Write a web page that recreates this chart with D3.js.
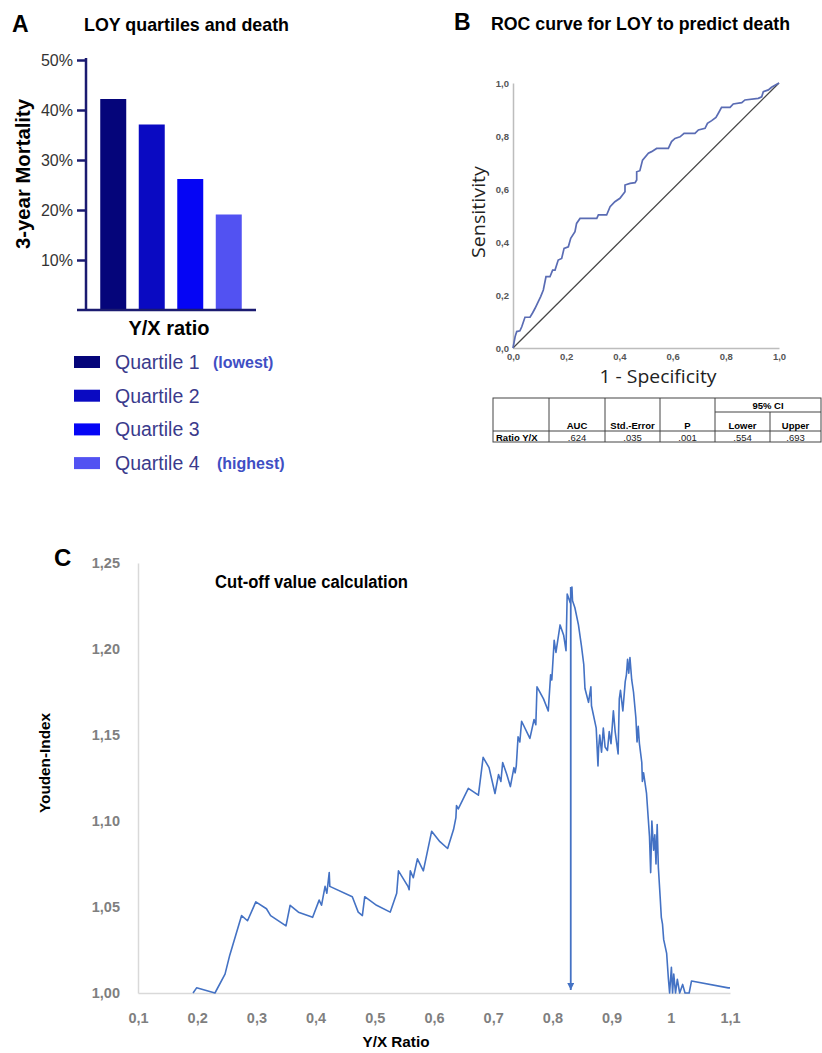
<!DOCTYPE html>
<html>
<head>
<meta charset="utf-8">
<script src="https://cdn.jsdelivr.net/npm/d3@7"></script>
<style>
  body { margin: 0; background: #fff; }
  svg { display: block; font-family: "Liberation Sans", Arial, sans-serif; }
</style>
</head>
<body>
<svg id="chart" width="822" height="1053"></svg>
<script>
// Panel A - 3-year mortality by LOY quartile
const quartiles = ['Quartile 1', 'Quartile 2', 'Quartile 3', 'Quartile 4'];
const quartileNotes = ['(lowest)', '', '', '(highest)'];
const mortality = [42.2, 37.1, 26.2, 19.1];
const mortalityTicks = [10, 20, 30, 40, 50];
const quartileColors = ['#05057a', '#0a0ac2', '#0505f5', '#5252f2'];

// Panel B - ROC curve (1 - specificity, sensitivity)
const rocFpr = [0, .008, .014, .026, .033, .045, .064, .074, .083, .095, .104, .114, .124, .139, .149, .158,
  .170, .183, .192, .208, .217, .233, .239, .252, .315, .321, .352, .365, .383, .402, .421, .421, .440, .459,
  .465, .465, .477, .487, .509, .521, .540, .584, .596, .609, .628, .643, .684, .697, .722, .731, .747, .763,
  .772, .784, .816, .828, .860, .872, .922, .935, .941, .960, .972, 1.0];
const rocTpr = [0, .043, .062, .065, .080, .116, .116, .133, .150, .175, .194, .219, .269, .269, .294, .294,
  .332, .338, .376, .382, .414, .439, .470, .489, .489, .502, .502, .533, .552, .565, .590, .615, .621, .624,
  .634, .665, .669, .709, .735, .741, .753, .753, .779, .791, .797, .810, .810, .823, .829, .848, .858, .870,
  .886, .908, .908, .921, .926, .936, .942, .948, .967, .974, .984, 1.0];
const rocTicks = [0, 0.2, 0.4, 0.6, 0.8, 1.0];
const tableHeader = ['AUC', 'Std.-Error', 'P', 'Lower', 'Upper'];
const tableRow = ['Ratio Y/X', '.624', '.035', '.001', '.554', '.693'];

// Panel C - Youden index vs Y/X ratio
const ratio = [0.193, 0.199, 0.230, 0.247, 0.255, 0.275, 0.285, 0.299, 0.317, 0.324, 0.350, 0.357, 0.371,
  0.395, 0.406, 0.410, 0.416, 0.419, 0.423, 0.424, 0.462, 0.472, 0.479, 0.483, 0.503, 0.526, 0.537, 0.540,
  0.556, 0.558, 0.560, 0.565, 0.572, 0.582, 0.596, 0.610, 0.623, 0.633, 0.637, 0.638, 0.641, 0.658, 0.675,
  0.683, 0.693, 0.703, 0.709, 0.713, 0.716, 0.723, 0.729, 0.735, 0.737, 0.739, 0.742, 0.745, 0.748, 0.762,
  0.769, 0.772, 0.774, 0.785, 0.793, 0.797, 0.799, 0.803, 0.806, 0.813, 0.819, 0.823, 0.825, 0.830, 0.833,
  0.834, 0.838, 0.844, 0.849, 0.853, 0.855, 0.861, 0.865, 0.866, 0.874, 0.877, 0.878, 0.880, 0.883, 0.886,
  0.889, 0.893, 0.896, 0.899, 0.903, 0.906, 0.911, 0.913, 0.915, 0.919, 0.923, 0.925, 0.927, 0.929, 0.931,
  0.934, 0.937, 0.941, 0.943, 0.945, 0.947, 0.951, 0.952, 0.954, 0.959, 0.962, 0.964, 0.966, 0.968, 0.971,
  0.973, 0.975, 0.977, 0.979, 0.982, 0.984, 0.986, 0.988, 0.993, 0.996, 0.998, 1.001, 1.003, 1.005, 1.008,
  1.011, 1.015, 1.020, 1.024, 1.031, 1.035, 1.097, 1.100];
const youden = [1.000, 1.003, 1.000, 1.011, 1.022, 1.045, 1.042, 1.053, 1.049, 1.045, 1.039, 1.051, 1.047,
  1.044, 1.054, 1.051, 1.062, 1.058, 1.070, 1.062, 1.056, 1.047, 1.045, 1.056, 1.051, 1.047, 1.058, 1.071,
  1.062, 1.060, 1.071, 1.067, 1.078, 1.071, 1.094, 1.088, 1.084, 1.095, 1.102, 1.109, 1.107, 1.119, 1.115,
  1.137, 1.131, 1.116, 1.127, 1.123, 1.134, 1.127, 1.120, 1.131, 1.128, 1.132, 1.149, 1.146, 1.158, 1.148,
  1.159, 1.156, 1.178, 1.171, 1.164, 1.185, 1.182, 1.205, 1.198, 1.214, 1.208, 1.199, 1.232, 1.227, 1.236,
  1.228, 1.224, 1.214, 1.202, 1.191, 1.177, 1.169, 1.178, 1.167, 1.154, 1.132, 1.142, 1.150, 1.140, 1.154,
  1.143, 1.141, 1.152, 1.145, 1.164, 1.152, 1.139, 1.171, 1.176, 1.164, 1.181, 1.185, 1.194, 1.186, 1.195,
  1.182, 1.175, 1.160, 1.146, 1.155, 1.145, 1.134, 1.123, 1.128, 1.116, 1.101, 1.091, 1.070, 1.100, 1.083,
  1.092, 1.075, 1.098, 1.073, 1.056, 1.044, 1.040, 1.031, 1.023, 1.008, 1.000, 1.015, 1.000, 1.011, 1.000,
  1.008, 1.000, 1.005, 1.000, 1.000, 1.007, 1.003, 1.003];
const cutoff = 0.831;
const youdenTicks = [1.00, 1.05, 1.10, 1.15, 1.20, 1.25];
const ratioTicks = [0.1, 0.2, 0.3, 0.4, 0.5, 0.6, 0.7, 0.8, 0.9, 1.0, 1.1];

const svg = d3.select('#chart');
const comma = (f) => (v) => d3.format(f)(v).replace('.', ',');

function label(x, y, txt, opts = {}) {
    const t = svg.append('text').attr('x', x).attr('y', y).text(txt)
        .attr('font-size', opts.size || 14)
        .attr('font-weight', opts.weight || 'normal')
        .attr('fill', opts.fill || '#000')
        .attr('text-anchor', opts.anchor || 'start');
    if (opts.family) t.attr('font-family', opts.family);
    if (opts.len) t.attr('textLength', opts.len).attr('lengthAdjust', 'spacingAndGlyphs');
    if (opts.rotate) t.attr('transform', `rotate(-90,${x},${y})`);
    return t;
}

// ---------- Panel A ----------
const navy = '#1b1b70';
const xA = d3.scaleBand().domain(quartiles).range([86, 256]).paddingInner(0.325).paddingOuter(0.37);
const yA = d3.scaleLinear().domain([0, 50]).range([310, 60]);

label(12, 32, 'A', { size: 23, weight: 'bold' });
label(84, 31, 'LOY quartiles and death', { size: 19, weight: 'bold', family: '"Liberation Sans Narrow", Arial', len: 205 });

svg.append('g').selectAll('rect')
    .data(quartiles)
    .join('rect')
    .attr('x', d => xA(d))
    .attr('width', xA.bandwidth())
    .attr('y', (d, i) => yA(mortality[i]))
    .attr('height', (d, i) => yA(0) - yA(mortality[i]))
    .attr('fill', (d, i) => quartileColors[i]);

const axA = svg.append('g').attr('transform', `translate(${xA.range()[0]},0)`)
    .call(d3.axisLeft(yA).tickValues(mortalityTicks).tickFormat(d => d + '%').tickSize(9).tickSizeOuter(0).tickPadding(4));
axA.selectAll('path, line').attr('stroke', navy).attr('stroke-width', 2.5);
axA.select('.domain').attr('d', `M0,${yA(50) - 2}V${yA(0)}`);
axA.selectAll('text').attr('font-size', 16).attr('fill', '#333').attr('font-family', 'Liberation Sans, Arial');

svg.append('line')
    .attr('x1', xA.range()[0] - 9).attr('x2', xA.range()[1])
    .attr('y1', yA(0)).attr('y2', yA(0))
    .attr('stroke', navy).attr('stroke-width', 2.5);

label(30, 174, '3-year Mortality', { size: 20, weight: 'bold', anchor: 'middle', rotate: true, len: 150 });
label(169, 335, 'Y/X ratio', { size: 20, weight: 'bold', anchor: 'middle' });

// legend
const legA = svg.append('g').selectAll('g')
    .data(quartiles)
    .join('g')
    .attr('transform', (d, i) => `translate(74,${362 + i * 33.7})`);
legA.append('rect').attr('x', 0).attr('y', -6).attr('width', 26).attr('height', 12)
    .attr('fill', (d, i) => quartileColors[i]);
legA.append('text').attr('x', 41).attr('y', 7).text(d => d)
    .attr('font-size', 19.5).attr('fill', '#3a3a8c');
legA.append('text').attr('x', (d, i) => i === 0 ? 139 : 143).attr('y', 6)
    .text((d, i) => quartileNotes[i])
    .attr('font-size', 16).attr('font-weight', 'bold').attr('fill', '#3f4fc4');

// ---------- Panel B ----------
const xB = d3.scaleLinear().domain([0, 1]).range([513, 779]);
const yB = d3.scaleLinear().domain([0, 1]).range([348, 83]);

label(454, 30, 'B', { size: 23, weight: 'bold' });
label(491, 30, 'ROC curve for LOY to predict death', { size: 18, weight: 'bold', family: '"Liberation Sans Narrow", Arial', len: 299 });

const axBy = svg.append('g').attr('transform', `translate(${xB(0)},0)`)
    .call(d3.axisLeft(yB).tickValues(rocTicks).tickFormat(comma('.1f')).tickSize(0).tickPadding(4));
const axBx = svg.append('g').attr('transform', `translate(0,${yB(0)})`)
    .call(d3.axisBottom(xB).tickValues(rocTicks).tickFormat(comma('.1f')).tickSize(0).tickPadding(5));
[axBy, axBx].forEach(a => {
    a.select('.domain').attr('stroke', '#bdbdbd').attr('stroke-width', 1.5);
    a.selectAll('text').attr('font-size', 9.5).attr('font-weight', 'bold').attr('fill', '#555');
});

const lineB = d3.line().x(d => xB(d[0])).y(d => yB(d[1]));
svg.append('path')
    .datum([[0, 0], [1, 1]])
    .attr('d', lineB)
    .attr('fill', 'none').attr('stroke', '#474747').attr('stroke-width', 1.3);
svg.append('path')
    .datum(rocFpr.map((f, i) => [f, rocTpr[i]]))
    .attr('d', lineB)
    .attr('fill', 'none').attr('stroke', '#5a6cb4').attr('stroke-width', 1.7);

label(485, 212, 'Sensitivity', { size: 19, family: '"Open Sans", sans-serif', anchor: 'middle', rotate: true, len: 92, fill: '#222' });
label(658, 383, '1 - Specificity', { size: 19, family: '"Open Sans", sans-serif', anchor: 'middle', len: 117, fill: '#222' });

// results table
const cols = [493, 549, 605, 660, 715, 770, 821];
const tTop = 398, tMid = 412, tHead = 431, tBot = 442;
const tbl = svg.append('g').attr('stroke', '#444').attr('stroke-width', 1).attr('fill', 'none');
tbl.append('rect').attr('x', cols[0]).attr('y', tTop).attr('width', cols[6] - cols[0]).attr('height', tBot - tTop);
tbl.append('line').attr('x1', cols[0]).attr('x2', cols[6]).attr('y1', tHead).attr('y2', tHead);
tbl.append('line').attr('x1', cols[4]).attr('x2', cols[6]).attr('y1', tMid).attr('y2', tMid);
cols.slice(1, 5).forEach(c => tbl.append('line').attr('x1', c).attr('x2', c).attr('y1', tTop).attr('y2', tBot));
tbl.append('line').attr('x1', cols[5]).attr('x2', cols[5]).attr('y1', tMid).attr('y2', tBot);

label((cols[4] + cols[6]) / 2, 409, '95% CI', { size: 9.5, weight: 'bold', anchor: 'middle' });
tableHeader.forEach((h, i) => label((cols[i + 1] + cols[i + 2]) / 2, 428.5, h, { size: 9.5, weight: 'bold', anchor: 'middle' }));
label(cols[0] + 3, 440.5, tableRow[0], { size: 9.5, weight: 'bold' });
tableRow.slice(1).forEach((v, i) => label((cols[i + 1] + cols[i + 2]) / 2, 440.5, v, { size: 9.5, anchor: 'middle', fill: '#222' }));

// ---------- Panel C ----------
const xC = d3.scaleLinear().domain([0.1, 1.1]).range([138, 730]);
const yC = d3.scaleLinear().domain([1.0, 1.25]).range([993, 563]);
const blue = '#4472c4';

label(54, 566, 'C', { size: 24, weight: 'bold' });
label(215, 588, 'Cut-off value calculation', { size: 18, weight: 'bold', family: '"Liberation Sans Narrow", Arial', len: 193 });

const axCy = svg.append('g').attr('transform', `translate(${xC(0.1)},0)`)
    .call(d3.axisLeft(yC).tickValues(youdenTicks).tickFormat(comma('.2f')).tickSize(0).tickPadding(18));
const axCx = svg.append('g').attr('transform', `translate(0,${yC(1.0)})`)
    .call(d3.axisBottom(xC).tickValues(ratioTicks).tickFormat(d => String(+d.toFixed(1)).replace('.', ',')).tickSize(0).tickPadding(20));
[axCy, axCx].forEach(a => {
    a.select('.domain').attr('stroke', '#d9d9d9').attr('stroke-width', 1.5);
    a.selectAll('text').attr('font-size', 14.5).attr('font-weight', 'bold').attr('fill', '#7f7f7f');
});

svg.append('defs').append('marker')
    .attr('id', 'arrow').attr('viewBox', '0 0 10 10')
    .attr('refX', 10).attr('refY', 5)
    .attr('markerWidth', 7).attr('markerHeight', 7)
    .attr('markerUnits', 'userSpaceOnUse').attr('orient', 'auto')
    .append('path').attr('d', 'M0,0L10,5L0,10z').attr('fill', blue);

svg.append('path')
    .datum(ratio.map((r, i) => [r, youden[i]]))
    .attr('d', d3.line().x(d => xC(d[0])).y(d => yC(d[1])))
    .attr('fill', 'none').attr('stroke', blue).attr('stroke-width', 1.6).attr('stroke-linejoin', 'round');

// cut-off marker
svg.append('line')
    .attr('x1', xC(cutoff)).attr('x2', xC(cutoff))
    .attr('y1', yC(d3.max(youden))).attr('y2', yC(1.0) - 3)
    .attr('stroke', blue).attr('stroke-width', 1.8)
    .attr('marker-end', 'url(#arrow)');

label(50, 763, 'Youden-Index', { size: 14, weight: 'bold', anchor: 'middle', rotate: true, len: 100 });
label(396, 1047, 'Y/X Ratio', { size: 14, weight: 'bold', anchor: 'middle', len: 67 });
</script>
</body>
</html>
